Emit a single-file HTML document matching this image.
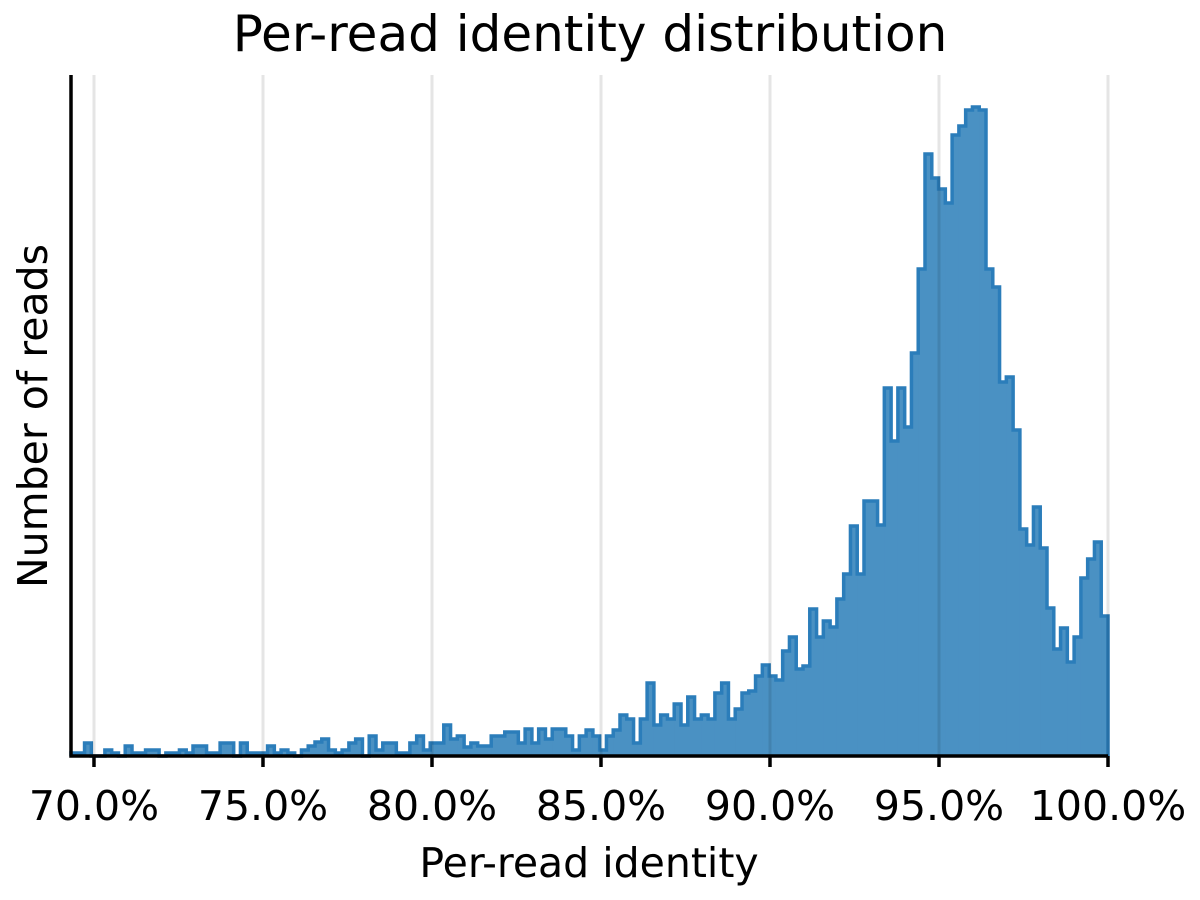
<!DOCTYPE html>
<html><head><meta charset="utf-8"><style>
html,body{margin:0;padding:0;background:#fff;}
svg{display:block;font-family:"DejaVu Sans","Liberation Sans",sans-serif;}
</style></head><body>
<svg id="chart" width="1200" height="900" viewBox="0 0 1200 900">
<text x="590" y="51" font-size="50" text-anchor="middle">Per-read identity distribution</text>
<g id="bars"></g>
<g id="grid"></g>
<g id="axes"></g>
<text x="589" y="877" font-size="41" text-anchor="middle">Per-read identity</text>
<text transform="translate(47,416) rotate(-90)" font-size="41" text-anchor="middle">Number of reads</text>
</svg>
<script>
const counts = [3,3,13,0,0,6,3,0,10,3,3,6,6,0,3,3,6,3,10,10,3,3,13,13,0,13,3,3,3,10,3,6,3,0,6,10,14,17,6,3,6,13,17,0,20,6,13,13,3,3,13,20,6,13,13,31,17,20,9,13,10,10,20,20,24,24,13,27,13,27,17,27,27,20,6,20,26,20,6,20,26,41,37,13,37,73,31,41,37,52,31,59,37,41,37,63,73,37,47,63,65,80,91,80,76,105,119,87,90,147,119,135,129,157,182,230,182,255,255,231,368,315,368,329,403,487,602,578,567,553,621,630,646,649,646,487,469,374,379,326,227,211,249,208,148,107,128,94,119,178,197,214,140];
const xTicks = [70,75,80,85,90,95,100];
const xTickLabels = ["70.0%","75.0%","80.0%","85.0%","90.0%","95.0%","100.0%"];
const xMin = 69.32, xMax = 100, yMax = 681;
const L=71,R=1108,T=75,B=756;
const xs = v => L + (v-xMin)/(xMax-xMin)*(R-L);
const ys = v => B - v/yMax*(B-T);
const NS="http://www.w3.org/2000/svg";
const bw = (xMax-xMin)/counts.length;
const bars=document.getElementById('bars');
let d="M"+xs(xMin)+","+B;
counts.forEach((c,i)=>{
  const x0=xs(xMin+i*bw), x1=xs(xMin+(i+1)*bw);
  const r=document.createElementNS(NS,'rect');
  r.setAttribute('x',x0);r.setAttribute('y',ys(c));
  r.setAttribute('width',x1-x0+0.4);r.setAttribute('height',B-ys(c));
  r.setAttribute('fill','#4a91c3');
  
  
  bars.appendChild(r);
  d+=" L"+x0+","+ys(c)+" L"+x1+","+ys(c);
});
d+=" L"+xs(xMax)+","+B;
const p=document.createElementNS(NS,'path');
p.setAttribute('d',d);p.setAttribute('fill','none');p.setAttribute('stroke','#2b7dba');p.setAttribute('stroke-width','3.5');


bars.appendChild(p);
const grid=document.getElementById('grid'), axes=document.getElementById('axes');
xTicks.forEach((t,i)=>{
  const x=xs(t);
  const g=document.createElementNS(NS,'line');
  g.setAttribute('x1',x);g.setAttribute('x2',x);g.setAttribute('y1',T);g.setAttribute('y2',B);
  g.setAttribute('stroke','rgba(0,0,0,0.1)');g.setAttribute('stroke-width','3');
  
  
  grid.appendChild(g);
  const tk=document.createElementNS(NS,'line');
  tk.setAttribute('x1',x);tk.setAttribute('x2',x);tk.setAttribute('y1',B);tk.setAttribute('y2',B+11);
  tk.setAttribute('stroke','#000');tk.setAttribute('stroke-width','3.5');
  
  
  axes.appendChild(tk);
  const tx=document.createElementNS(NS,'text');
  tx.setAttribute('x',x);tx.setAttribute('y',820);tx.setAttribute('font-size','41');tx.setAttribute('text-anchor','middle');
  tx.textContent=xTickLabels[i];
  
  
  axes.appendChild(tx);
});
const ax=document.createElementNS(NS,'path');
ax.setAttribute('d',`M${L},${T} L${L},${B} L${R},${B}`);
ax.setAttribute('fill','none');ax.setAttribute('stroke','#000');ax.setAttribute('stroke-width','3.5');


axes.appendChild(ax);
</script>
</body></html>
